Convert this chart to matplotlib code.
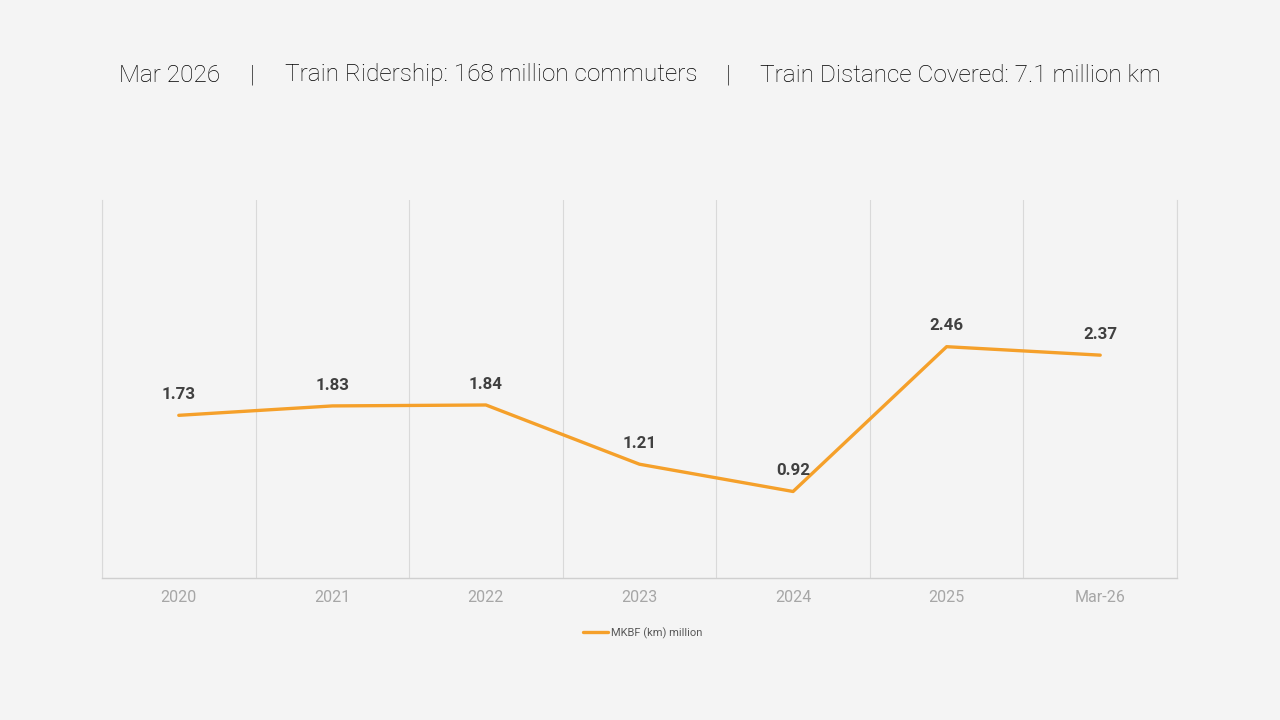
import numpy as np
import matplotlib.pyplot as plt

# Datos del grafico
categorias = ['2020', '2021', '2022', '2023', '2024', '2025', 'Mar-26']
mkbf = [1.73, 1.83, 1.84, 1.21, 0.92, 2.46, 2.37]
etiqueta_serie = 'MKBF (km) million'

titulo_partes = ['Mar 2026', '|', 'Train Ridership: 168 million commuters', '|',
                 'Train Distance Covered: 7.1 million km']

fondo = '#f4f4f4'
naranja = '#f5a02a'

plt.rcParams['font.family'] = ['Roboto', 'DejaVu Sans']

fig = plt.figure(figsize=(12.8, 7.2), dpi=100, facecolor=fondo)
ax = fig.add_axes([102 / 1280, 1 - 578 / 720, (1177 - 102) / 1280, (578 - 200) / 720])
ax.set_facecolor(fondo)

x = np.arange(len(categorias))
ax.plot(x, mkbf, color=naranja, linewidth=2.4, label=etiqueta_serie, solid_capstyle='round')

for xi, v in zip(x, mkbf):
    ax.annotate(f'{v:.2f}', (xi, v), xytext=(0, 9.5), textcoords='offset points',
                ha='center', va='bottom', fontsize=12.2, fontweight='bold', color='#404040')

ax.set_xlim(-0.5, len(categorias) - 0.5)
ax.set_ylim(0, 4.02)
ax.set_xticks(x)
ax.set_xticklabels(categorias)
ax.set_xticks(np.arange(-0.5, len(categorias)), minor=True)
ax.grid(True, which='minor', axis='x', color='#d9d9d9', linewidth=0.8)
ax.tick_params(axis='x', which='both', length=0, pad=9, labelsize=11.5, labelcolor='#a6a6a6')
ax.set_yticks([])

ax.spines['top'].set_visible(False)
ax.spines['left'].set_color('#d9d9d9')
ax.spines['right'].set_color('#d9d9d9')
ax.spines['bottom'].set_color('#cfcfcf')
ax.spines['left'].set_linewidth(0.8)
ax.spines['right'].set_linewidth(0.8)
ax.spines['bottom'].set_linewidth(1.0)

# Titulo en partes
posiciones = [119, 250, 285, 726, 760]
for texto, px in zip(titulo_partes, posiciones):
    fig.text(px / 1280, 1 - 75 / 720, texto, ha='left', va='center',
             fontsize=17.6, fontweight='light', color='#000000')

fig.legend(loc='center', bbox_to_anchor=(643 / 1280, 1 - 633 / 720), frameon=False,
           fontsize=8, handlelength=2.2, handletextpad=0.3, labelcolor='#595959')

plt.savefig('out.png', dpi=100, facecolor=fondo)
